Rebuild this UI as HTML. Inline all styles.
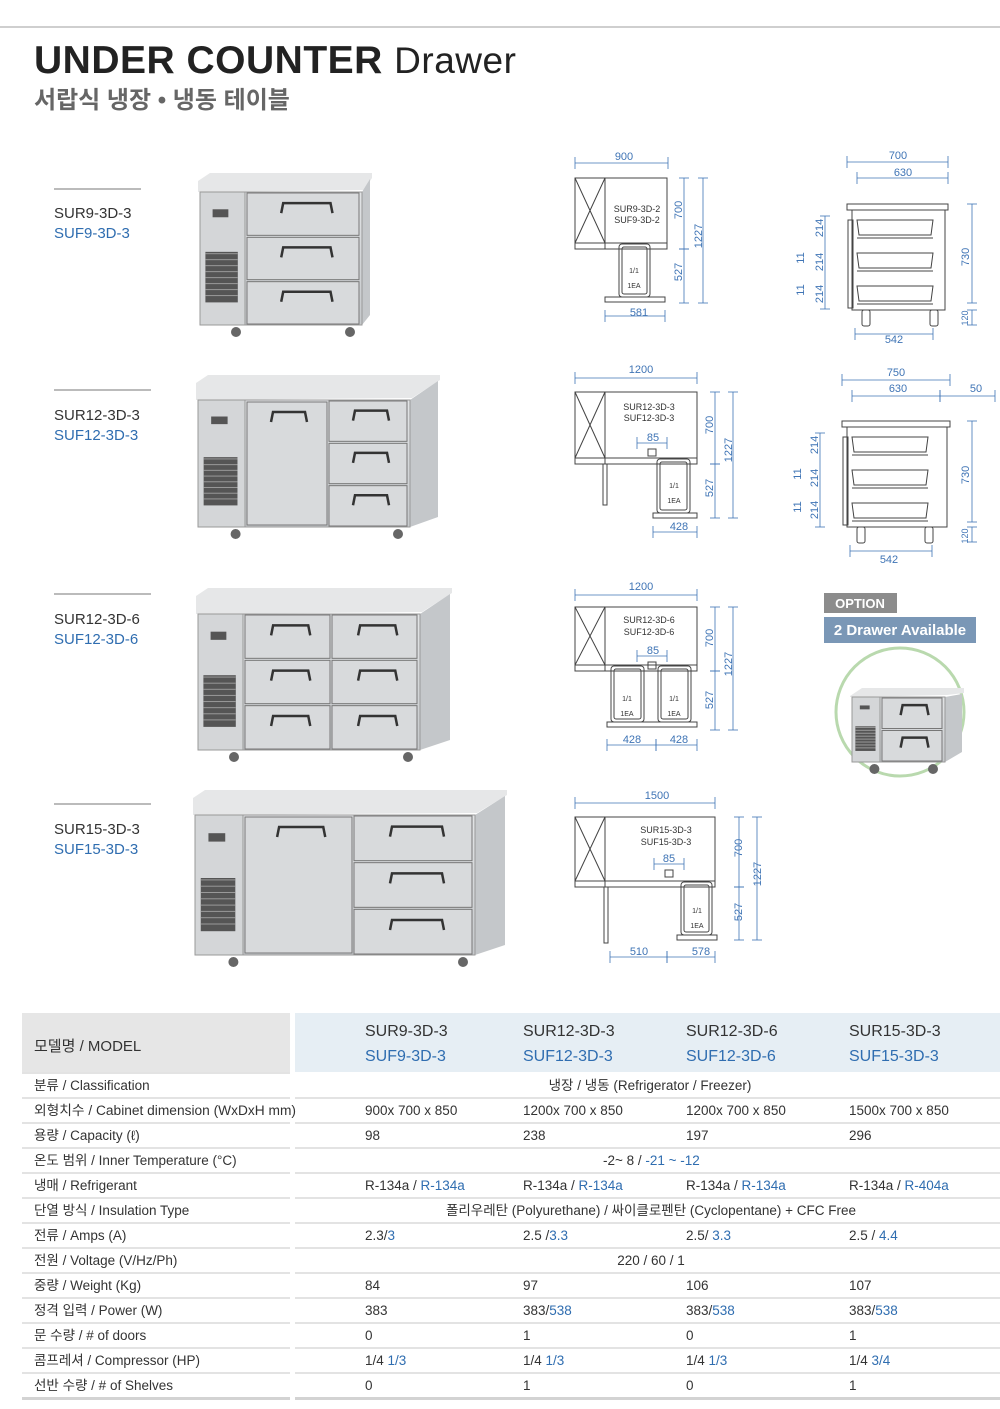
<!DOCTYPE html>
<html><head><meta charset="utf-8"><style>
html,body{margin:0;padding:0;background:#fff}
svg{display:block}
text{font-family:"Liberation Sans","Noto Sans CJK KR",sans-serif}
.dim{fill:#3f74b5;font-size:11px;text-anchor:middle}
.lbl{font-size:15px;fill:#333}
.blu{fill:#2f6db0}
.t{font-size:13.5px;fill:#333}
.tb{font-size:13.5px;fill:#2f6db0}
</style></head><body>
<svg id="s" width="1000" height="1409" viewBox="0 0 1000 1409" xmlns="http://www.w3.org/2000/svg">
<rect x="0" y="26" width="1000" height="2" fill="#cfcfcf"/>
<text x="34" y="73" style="font-size:39px;font-weight:bold;fill:#222;letter-spacing:0.5px">UNDER COUNTER <tspan style="font-weight:normal;font-size:37px">Drawer</tspan></text>
<text x="34" y="108" style="font-size:24px;fill:#666;font-weight:bold">서랍식 냉장 • 냉동 테이블</text>

<g id="labels">
<rect x="54" y="188" width="87" height="2" fill="#bbb"/>
<text x="54" y="218" class="lbl">SUR9-3D-3</text><text x="54" y="238" class="lbl blu">SUF9-3D-3</text>
<rect x="54" y="389" width="97" height="2" fill="#bbb"/>
<text x="54" y="420" class="lbl">SUR12-3D-3</text><text x="54" y="440" class="lbl blu">SUF12-3D-3</text>
<rect x="54" y="593" width="97" height="2" fill="#bbb"/>
<text x="54" y="624" class="lbl">SUR12-3D-6</text><text x="54" y="644" class="lbl blu">SUF12-3D-6</text>
<rect x="54" y="803" width="97" height="2" fill="#bbb"/>
<text x="54" y="834" class="lbl">SUR15-3D-3</text><text x="54" y="854" class="lbl blu">SUF15-3D-3</text>
</g>

<g id="photos"></g>
<g id="draw" fill="none" stroke="#444" stroke-width="1"></g>
<g id="dims" stroke="#3f74b5" stroke-width="0.8" fill="none"></g>

<g class="dim">
<text x="624" y="160">900</text>
<text x="637" y="212" style="fill:#333;font-size:9px">SUR9-3D-2</text><text x="637" y="223" style="fill:#333;font-size:9px">SUF9-3D-2</text>
<text x="634" y="273" style="fill:#333;font-size:7px">1/1</text><text x="634" y="288" style="fill:#333;font-size:7px">1EA</text>
<text x="639" y="316">581</text>
<text transform="translate(682,210) rotate(-90)">700</text>
<text transform="translate(702,236) rotate(-90)">1227</text>
<text transform="translate(682,272) rotate(-90)">527</text>

<text x="898" y="159">700</text><text x="903" y="176">630</text>
<text transform="translate(823,228) rotate(-90)">214</text>
<text transform="translate(823,262) rotate(-90)">214</text>
<text transform="translate(823,294) rotate(-90)">214</text>
<text transform="translate(804,258) rotate(-90)">11</text>
<text transform="translate(804,290) rotate(-90)">11</text>
<text transform="translate(969,257) rotate(-90)">730</text>
<text transform="translate(968,318) rotate(-90)" style="font-size:9px">120</text>
<text x="894" y="343">542</text>

<text x="641" y="373">1200</text>
<text x="649" y="410" style="fill:#333;font-size:9px">SUR12-3D-3</text><text x="649" y="421" style="fill:#333;font-size:9px">SUF12-3D-3</text>
<text x="653" y="441">85</text>
<text x="674" y="488" style="fill:#333;font-size:7px">1/1</text><text x="674" y="503" style="fill:#333;font-size:7px">1EA</text>
<text x="679" y="530">428</text>
<text transform="translate(713,425) rotate(-90)">700</text>
<text transform="translate(732,450) rotate(-90)">1227</text>
<text transform="translate(713,488) rotate(-90)">527</text>

<text x="896" y="376">750</text><text x="898" y="392">630</text><text x="976" y="392">50</text>
<text transform="translate(818,445) rotate(-90)">214</text>
<text transform="translate(818,478) rotate(-90)">214</text>
<text transform="translate(818,510) rotate(-90)">214</text>
<text transform="translate(801,474) rotate(-90)">11</text>
<text transform="translate(801,507) rotate(-90)">11</text>
<text transform="translate(969,475) rotate(-90)">730</text>
<text transform="translate(968,536) rotate(-90)" style="font-size:9px">120</text>
<text x="889" y="563">542</text>

<text x="641" y="590">1200</text>
<text x="649" y="623" style="fill:#333;font-size:9px">SUR12-3D-6</text><text x="649" y="635" style="fill:#333;font-size:9px">SUF12-3D-6</text>
<text x="653" y="654">85</text>
<text x="627" y="701" style="fill:#333;font-size:7px">1/1</text><text x="627" y="716" style="fill:#333;font-size:7px">1EA</text>
<text x="674" y="701" style="fill:#333;font-size:7px">1/1</text><text x="674" y="716" style="fill:#333;font-size:7px">1EA</text>
<text x="632" y="743">428</text><text x="679" y="743">428</text>
<text transform="translate(713,638) rotate(-90)">700</text>
<text transform="translate(732,664) rotate(-90)">1227</text>
<text transform="translate(713,700) rotate(-90)">527</text>

<text x="657" y="799">1500</text>
<text x="666" y="833" style="fill:#333;font-size:9px">SUR15-3D-3</text><text x="666" y="845" style="fill:#333;font-size:9px">SUF15-3D-3</text>
<text x="669" y="862">85</text>
<text x="697" y="913" style="fill:#333;font-size:7px">1/1</text><text x="697" y="928" style="fill:#333;font-size:7px">1EA</text>
<text x="639" y="955">510</text><text x="701" y="955">578</text>
<text transform="translate(742,848) rotate(-90)">700</text>
<text transform="translate(761,874) rotate(-90)">1227</text>
<text transform="translate(742,912) rotate(-90)">527</text>
</g>

<rect x="824" y="593" width="73" height="20" fill="#8c8c8c"/>
<text x="860" y="608" style="font-size:13px;fill:#fff;font-weight:bold;text-anchor:middle">OPTION</text>
<rect x="824" y="617" width="152" height="26" fill="#7a97b6"/>
<text x="900" y="635" style="font-size:15px;fill:#fff;text-anchor:middle;font-weight:bold">2 Drawer Available</text>
<circle cx="900" cy="712" r="64" fill="#fff" stroke="#b9d9ae" stroke-width="3"/>
<g id="opt"></g>

<rect x="22" y="1013" width="268" height="59" fill="#e6e6e6"/>
<rect x="295" y="1013" width="705" height="59" fill="#e6eef4"/>
<text x="34" y="1051" style="font-size:15px;fill:#333">모델명 / MODEL</text>
<g style="font-size:16px">
<text x="365" y="1036" fill="#333">SUR9-3D-3</text><text x="365" y="1061" fill="#2f6db0">SUF9-3D-3</text>
<text x="523" y="1036" fill="#333">SUR12-3D-3</text><text x="523" y="1061" fill="#2f6db0">SUF12-3D-3</text>
<text x="686" y="1036" fill="#333">SUR12-3D-6</text><text x="686" y="1061" fill="#2f6db0">SUF12-3D-6</text>
<text x="849" y="1036" fill="#333">SUR15-3D-3</text><text x="849" y="1061" fill="#2f6db0">SUF15-3D-3</text>
</g>
<g id="rows" fill="#e3e3e3"></g>
<g class="t">
<text x="34" y="1090">분류 / Classification</text>
<text x="34" y="1115" textLength="262" lengthAdjust="spacingAndGlyphs">외형치수 / Cabinet dimension (WxDxH mm)</text>
<text x="34" y="1140">용량 / Capacity (ℓ)</text>
<text x="34" y="1165">온도 범위 / Inner Temperature (°C)</text>
<text x="34" y="1190">냉매 / Refrigerant</text>
<text x="34" y="1215">단열 방식 / Insulation Type</text>
<text x="34" y="1240">전류 / Amps (A)</text>
<text x="34" y="1265">전원 / Voltage (V/Hz/Ph)</text>
<text x="34" y="1290">중량 / Weight (Kg)</text>
<text x="34" y="1315">정격 입력 / Power (W)</text>
<text x="34" y="1340">문 수량 / # of doors</text>
<text x="34" y="1365">콤프레셔 / Compressor (HP)</text>
<text x="34" y="1390">선반 수량 / # of Shelves</text>

<text x="650" y="1090" text-anchor="middle">냉장 / 냉동 (Refrigerator / Freezer)</text>
<text x="365" y="1115">900x 700 x 850</text><text x="523" y="1115">1200x 700 x 850</text><text x="686" y="1115">1200x 700 x 850</text><text x="849" y="1115">1500x 700 x 850</text>
<text x="365" y="1140">98</text><text x="523" y="1140">238</text><text x="686" y="1140">197</text><text x="849" y="1140">296</text>
<text x="603" y="1165">-2~ 8 / <tspan class="tb">-21 ~ -12</tspan></text>
<text x="365" y="1190">R-134a / <tspan class="tb">R-134a</tspan></text><text x="523" y="1190">R-134a / <tspan class="tb">R-134a</tspan></text><text x="686" y="1190">R-134a / <tspan class="tb">R-134a</tspan></text><text x="849" y="1190">R-134a / <tspan class="tb">R-404a</tspan></text>
<text x="651" y="1215" text-anchor="middle">폴리우레탄 (Polyurethane) / 싸이클로펜탄 (Cyclopentane) +  CFC Free</text>
<text x="365" y="1240">2.3/<tspan class="tb">3</tspan></text><text x="523" y="1240">2.5 /<tspan class="tb">3.3</tspan></text><text x="686" y="1240">2.5/ <tspan class="tb">3.3</tspan></text><text x="849" y="1240">2.5 / <tspan class="tb">4.4</tspan></text>
<text x="651" y="1265" text-anchor="middle">220 / 60 / 1</text>
<text x="365" y="1290">84</text><text x="523" y="1290">97</text><text x="686" y="1290">106</text><text x="849" y="1290">107</text>
<text x="365" y="1315">383</text><text x="523" y="1315">383/<tspan class="tb">538</tspan></text><text x="686" y="1315">383/<tspan class="tb">538</tspan></text><text x="849" y="1315">383/<tspan class="tb">538</tspan></text>
<text x="365" y="1340">0</text><text x="523" y="1340">1</text><text x="686" y="1340">0</text><text x="849" y="1340">1</text>
<text x="365" y="1365">1/4 <tspan class="tb">1/3</tspan></text><text x="523" y="1365">1/4 <tspan class="tb">1/3</tspan></text><text x="686" y="1365">1/4 <tspan class="tb">1/3</tspan></text><text x="849" y="1365">1/4 <tspan class="tb">3/4</tspan></text>
<text x="365" y="1390">0</text><text x="523" y="1390">1</text><text x="686" y="1390">0</text><text x="849" y="1390">1</text>
</g>
</svg>
<script>
var NS="http://www.w3.org/2000/svg";
function el(p,n,a){var e=document.createElementNS(NS,n);for(var k in a)e.setAttribute(k,a[k]);p.appendChild(e);return e;}
var rows=document.getElementById('rows');
for(var i=0;i<13;i++){var y=1097+i*25;
 el(rows,'rect',{x:22,y:y,width:268,height:2});el(rows,'rect',{x:295,y:y,width:705,height:2});}
el(rows,'rect',{x:22,y:1072,width:268,height:2,fill:'#e3e3e3'});
el(rows,'rect',{x:22,y:1397,width:268,height:3,fill:'#d3d3d3'});el(rows,'rect',{x:295,y:1397,width:705,height:3,fill:'#d3d3d3'});

var ph=document.getElementById('photos');
var defs=el(document.getElementById('s'),'defs',{});
var g1=el(defs,'linearGradient',{id:'st',x1:0,y1:0,x2:0,y2:1});
el(g1,'stop',{offset:0,'stop-color':'#e2e4e6'});el(g1,'stop',{offset:1,'stop-color':'#c6c9cc'});
function handle(p,x,y,w){el(p,'path',{d:'M'+x+' '+(y+10)+'L'+(x+2)+' '+y+'L'+(x+w-2)+' '+y+'L'+(x+w)+' '+(y+10),fill:'none',stroke:'#333','stroke-width':2.5});}
function fridge(p,o){
 var x0=o.x0,x1=o.x1,xs=o.xs,t=o.top,f=o.front,b=o.bot;
 el(p,'polygon',{points:(x0-2)+','+(t+8)+' '+(x0+10)+','+t+' '+(xs+2)+','+t+' '+(xs+2)+','+(t+5)+' '+(x1+2)+','+(f-2)+' '+(x0-2)+','+(f),fill:'#e6e7e8'});
 el(p,'polygon',{points:x1+','+f+' '+xs+','+(t+6)+' '+xs+','+(b-10)+' '+x1+','+b,fill:'#c4c7ca'});
 el(p,'rect',{x:x0,y:f,width:x1-x0,height:b-f,fill:'url(#st)',stroke:'#999'});
 var pw=o.pw;
 el(p,'rect',{x:x0,y:f,width:pw,height:b-f,fill:'#d4d6d8',stroke:'#999'});
 el(p,'rect',{x:x0+pw*0.28,y:f+(b-f)*0.13,width:pw*0.35,height:(b-f)*0.06,fill:'#555'});
 el(p,'rect',{x:x0+pw*0.12,y:f+(b-f)*0.45,width:pw*0.72,height:(b-f)*0.38,fill:'#555'});
 for(var k=0;k<8;k++)el(p,'rect',{x:x0+pw*0.12,y:f+(b-f)*(0.46+k*0.045),width:pw*0.72,height:1,fill:'#999'});
 var cx=x0+pw+2;
 if(o.door){el(p,'rect',{x:cx,y:f+2,width:o.door,height:b-f-4,fill:'#d8dadc',stroke:'#777'});handle(p,cx+o.door*0.3,f+12,o.door*0.45);cx+=o.door+2;}
 var nc=o.cols||1,cw=(x1-cx-1)/nc,rh=(b-f)/o.rows;
 for(var c=0;c<nc;c++)for(var r=0;r<o.rows;r++){var dx=cx+c*cw,dy=f+r*rh;
  el(p,'rect',{x:dx,y:dy+1,width:cw-2,height:rh-2,fill:'#d8dadc',stroke:'#777'});
  handle(p,dx+cw*0.3,dy+rh*0.25,cw*0.45);}
 if(o.wheels!==false){[x0+pw*0.8,x1-12].forEach(function(wx){el(p,'circle',{cx:wx,cy:b+7,r:5,fill:'#666'});});}
}
fridge(ph,{x0:200,x1:362,xs:370,top:173,front:192,bot:325,pw:45,rows:3});
fridge(ph,{x0:198,x1:410,xs:438,top:375,front:400,bot:527,pw:47,door:80,rows:3});
fridge(ph,{x0:198,x1:420,xs:450,top:588,front:614,bot:750,pw:45,cols:2,rows:3});
fridge(ph,{x0:195,x1:475,xs:505,top:790,front:815,bot:955,pw:48,door:107,rows:3});
fridge(document.getElementById('opt'),{x0:852,x1:945,xs:962,top:688,front:697,bot:762,pw:28,rows:2});

var d=document.getElementById('draw'),dm=document.getElementById('dims');
function L(p,x1,y1,x2,y2){el(p,'line',{x1:x1,y1:y1,x2:x2,y2:y2});}
function R(p,x,y,w,h,r){el(p,'rect',{x:x,y:y,width:w,height:h,rx:r||0});}
function front(bx,by,bw,bh,pans,ph,plate,leg){
 R(d,bx,by,bw,bh);L(d,bx+30,by,bx+30,by+bh);L(d,bx,by,bx+30,by+bh-6);L(d,bx+30,by,bx,by+bh-6);L(d,bx,by+bh-6,bx+bw,by+bh-6);
 pans.forEach(function(q){R(d,q[0],by+bh-5,q[1],ph,3);R(d,q[0]+3,by+bh-2,q[1]-6,ph-6,2);});
 R(d,plate[0],plate[1],plate[2],5);
 if(leg)R(d,leg[0],by+bh,4,leg[1]);
}
function hd(x1,x2,y){L(dm,x1,y,x2,y);L(dm,x1,y-6,x1,y+6);L(dm,x2,y-6,x2,y+6);}
function vd(x,y1,y2){L(dm,x,y1,x,y2);L(dm,x-5,y1,x+5,y1);L(dm,x-5,y2,x+5,y2);}
front(575,178,92,71,[[619,31]],53,[605,297,60]);
hd(575,668,163);vd(684,178,249);vd(684,249,303);vd(703,178,303);hd(605,665,316);
front(575,392,122,72,[[657,33]],54,[653,513,44],[603,41]);
hd(575,697,378);vd(715,392,464);vd(715,464,518);vd(733,392,518);hd(653,697,532);hd(637,667,443);R(d,648,449,8,7);
front(575,607,122,64,[[611,33],[658,33]],56,[607,722,90]);
hd(575,697,595);vd(715,607,671);vd(715,671,730);vd(733,607,730);hd(607,656,745);hd(656,697,745);hd(637,667,656);R(d,648,662,8,7);
front(575,817,140,70,[[681,31]],53,[677,935,40],[604,56]);
hd(575,715,803);vd(739,817,887);vd(739,887,940);vd(757,817,940);hd(610,667,957);hd(667,715,957);hd(654,684,864);R(d,665,870,8,7);
function side(x,y,w){
 R(d,x,y,w,6);R(d,x+5,y+6,w-8,100);R(d,x+1,y+16,5,88);
 [0,1,2].forEach(function(i){var yy=y+16+i*33;el(d,'path',{d:'M'+(x+10)+' '+yy+'L'+(x+86)+' '+yy+'L'+(x+84)+' '+(yy+15)+'L'+(x+12)+' '+(yy+15)+'Z'});L(d,x+10,yy+18,x+86,yy+18);});
 R(d,x+15,y+106,8,16,2);R(d,x+83,y+106,8,16,2);
}
side(847,204,101);side(842,421,108);
vd(972,204,303);vd(972,310,325);hd(847,948,162);hd(857,948,178);hd(855,933,334);
vd(825,216,309);vd(972,421,522);vd(972,527,542);hd(842,950,380);hd(852,940,396);hd(940,995,396);hd(850,932,551);vd(820,433,527);
</script>
</body></html>
